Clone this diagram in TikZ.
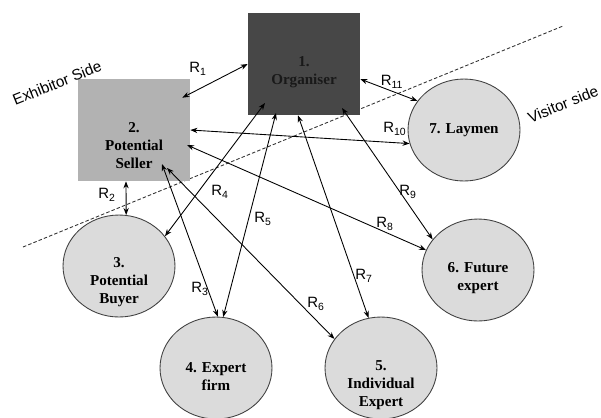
\documentclass[tikz,border=0pt]{standalone}
\usepackage{fontspec}
\setmainfont{Liberation Serif}
\setsansfont{Liberation Sans}
\usepackage{tikz}
\usetikzlibrary{arrows.meta,positioning,shapes.geometric}
\usepackage{xcolor}

\begin{document}
\begin{tikzpicture}[x=0.02cm, y=-0.02cm,
  box/.style={fill=#1, minimum width=2.24cm, minimum height=2.04cm, inner sep=0pt},
  party/.style={ellipse, draw=black!75, line width=0.5pt, fill=black!14,
                minimum width=2.24cm, minimum height=2.04cm, inner sep=0pt},
  txt/.style={font=\bfseries\fontsize{8.6}{10.2}\selectfont, align=center, inner sep=0pt},
  rlabel/.style={font=\sffamily\fontsize{8.5}{10}\selectfont, inner sep=0pt},
  side/.style={font=\sffamily\fontsize{8.7}{10}\selectfont, rotate=22, inner sep=0pt},
  arrow/.style={{Stealth[length=4pt,width=3pt]}-{Stealth[length=4pt,width=3pt]}, line width=0.5pt}
]
\useasboundingbox (0,0) rectangle (601,417);

%% Divider between the two sides
\coordinate (divA) at (23,247);
\coordinate (divB) at (563,26);
\draw[dashed, dash pattern=on 2pt off 1.2pt, line width=0.5pt, black!80] (divA) -- (divB);

%% Actors
\node[box=black!72, label={[txt, text=black!90, yshift=-4.8pt]center:1.\\Organiser}] (org) at (304,64) {};
\node[box=black!30, label={[txt, yshift=-9pt]center:2.\\Potential\\Seller}] (seller) at (134,130) {};
\node[party, label={[txt, yshift=-9pt]center:3.\\Potential\\Buyer}] (buyer) at (119,266) {};
\node[party, label={[txt, yshift=-4.8pt]center:4. Expert\\firm}] (firm) at (216,368) {};
\node[party, label={[txt, yshift=-9.6pt]center:5.\\Individual\\Expert}] (indiv) at (381,368) {};
\node[party, label={[txt, yshift=-4.8pt]center:6. Future\\expert}] (future) at (478,270) {};
\node[party, label={[txt]center:7. Laymen}] (laymen) at (464,130) {};

%% Side names
\node[side] (exh) at (57,83) {Exhibitor Side};
\node[side] (vis) at (563,104) {Visitor side};

%% Relations
\draw[arrow] (org.west) -- ([shift={(-8,19)}]seller.north east);
\draw[arrow] ([shift={(-8,0)}]seller.south) -- (buyer.82);
\draw[arrow] ([shift={(28,34)}]seller.center) -- (firm.88);
\draw[arrow] ([shift={(-39,39)}]org.center) -- (buyer.33);
\draw[arrow] ([shift={(-28,49)}]org.center) -- (firm.82);
\draw[arrow] ([shift={(33,38)}]seller.center) -- (indiv.148);
\draw[arrow] ([shift={(-6,0)}]org.south) -- (indiv.104);
\draw[arrow] ([shift={(53,15)}]seller.center) -- (future.159);
\draw[arrow] ([shift={(38,44)}]org.center) -- (future.146);
\draw[arrow] (seller.east) -- (laymen.194);
\draw[arrow] (org.-15) -- (laymen.148);

%% Relation labels
\node[rlabel] (r1) at (198,69) {R\textsubscript{1}};
\node[rlabel] (r2) at (107,195) {R\textsubscript{2}};
\node[rlabel] (r3) at (200,289) {R\textsubscript{3}};
\node[rlabel] (r4) at (220,192) {R\textsubscript{4}};
\node[rlabel] (r5) at (263,219) {R\textsubscript{5}};
\node[rlabel] (r6) at (316,304) {R\textsubscript{6}};
\node[rlabel] (r7) at (364,276) {R\textsubscript{7}};
\node[rlabel] (r8) at (385,224) {R\textsubscript{8}};
\node[rlabel] (r9) at (408,192) {R\textsubscript{9}};
\node[rlabel] (r10) at (395,129) {R\textsubscript{10}};
\node[rlabel] (r11) at (392,82) {R\textsubscript{11}};

\end{tikzpicture}
\end{document}
